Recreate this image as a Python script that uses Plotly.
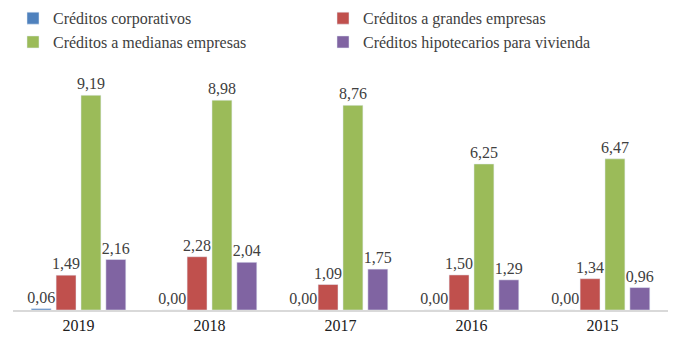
import plotly.graph_objects as go

years = ["2019", "2018", "2017", "2016", "2015"]
corporativos = [0.06, 0.00, 0.00, 0.00, 0.00]
grandes = [1.49, 2.28, 1.09, 1.50, 1.34]
medianas = [9.19, 8.98, 8.76, 6.25, 6.47]
hipotecarios = [2.16, 2.04, 1.75, 1.29, 0.96]

series = [
    ("Créditos corporativos", corporativos, "#4F81BD"),
    ("Créditos a grandes empresas", grandes, "#C0504D"),
    ("Créditos a medianas empresas", medianas, "#9BBB59"),
    ("Créditos hipotecarios para vivienda", hipotecarios, "#8064A2"),
]

font_family = "Liberation Serif, Times New Roman, serif"
fig = go.Figure()
for name, vals, color in series:
    fig.add_trace(go.Bar(
        x=years, y=vals, name=name, marker_color=color,
        texttemplate="%{y:.2f}", textposition="outside", cliponaxis=False,
        constraintext="none",
        textfont=dict(size=16, color="#404040", family=font_family),
    ))

fig.update_layout(
    width=675, height=347,
    margin=dict(l=13, r=7, t=60, b=37, autoexpand=False),
    paper_bgcolor="white", plot_bgcolor="white",
    separators=",.",
    barmode="group", bargap=0.24, bargroupgap=0.2,
    font=dict(family=font_family, size=16, color="#404040"),
    legend=dict(orientation="h", x=0.0, xanchor="left", y=1.235, yanchor="top",
                entrywidth=265, entrywidthmode="pixels",
                font=dict(size=16, color="#404040", family=font_family),
                itemwidth=30, traceorder="normal"),
    showlegend=True,
)
fig.update_xaxes(showline=True, linecolor="#D9D9D9", linewidth=2, ticks="",
                 tickfont=dict(size=16, color="#202020", family=font_family))
fig.update_yaxes(visible=False, range=[0, 10.7], showgrid=False, zeroline=False)

fig.write_html("out.html", config={"displayModeBar": False},
               post_script="document.body.style.margin='0';")
